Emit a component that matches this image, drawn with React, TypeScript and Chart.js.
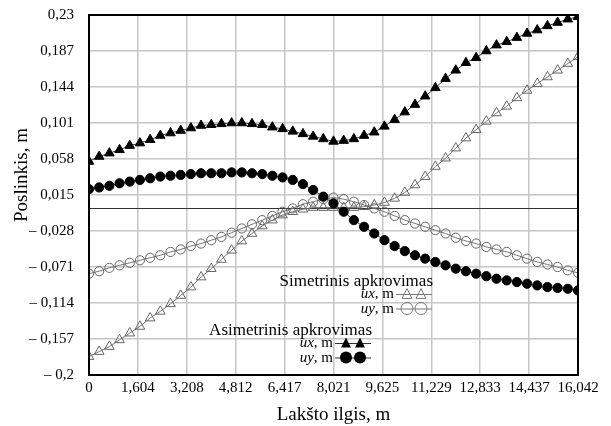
import React, { useEffect, useRef } from 'react';
import { Chart, registerables } from 'chart.js';

Chart.register(...registerables);

const FONT = "'Liberation Serif', 'Times New Roman', serif";

// Span length (m) and number of computed stations along it
const X_MAX = 16.0416;
const STATION_COUNT = 49;
const stations = Array.from({ length: STATION_COUNT }, (_, i) => (i * X_MAX) / (STATION_COUNT - 1));

const xTickLabels = ['0', '1,604', '3,208', '4,812', '6,417', '8,021', '9,625', '11,229', '12,833', '14,437', '16,042'];
const yTickValues = [-0.2, -0.157, -0.114, -0.071, -0.028, 0.015, 0.058, 0.101, 0.144, 0.187, 0.23];
const yTickLabels = ['\u2013 0,2', '\u2013 0,157', '\u2013 0,114', '\u2013 0,071', '\u2013 0,028', '0,015', '0,058', '0,101', '0,144', '0,187', '0,23'];
const xTitle = 'Lakšto ilgis, m';
const yTitle = 'Poslinkis, m';

// Asimetrinis apkrovimas
const asymUx = [
  0.055, 0.061, 0.065, 0.069, 0.074, 0.077, 0.081, 0.086, 0.089, 0.092,
  0.095, 0.098, 0.099, 0.100, 0.101, 0.101, 0.100, 0.099, 0.096, 0.094,
  0.091, 0.088, 0.085, 0.082, 0.079, 0.080, 0.082, 0.086, 0.090, 0.097,
  0.105, 0.114, 0.123, 0.133, 0.143, 0.154, 0.164, 0.173, 0.179, 0.187,
  0.194, 0.198, 0.203, 0.208, 0.212, 0.217, 0.221, 0.225, 0.228,
];
const asymUy = [
  0.022, 0.024, 0.026, 0.029, 0.031, 0.033, 0.035, 0.037, 0.038, 0.039,
  0.040, 0.041, 0.041, 0.041, 0.042, 0.042, 0.041, 0.040, 0.038, 0.036,
  0.033, 0.028, 0.021, 0.013, 0.005, -0.005, -0.015, -0.023, -0.031, -0.039,
  -0.046, -0.052, -0.057, -0.061, -0.065, -0.069, -0.073, -0.076, -0.079, -0.082,
  -0.085, -0.087, -0.089, -0.091, -0.093, -0.095, -0.096, -0.097, -0.099,
];
// Simetrinis apkrovimas
const symUx = [
  -0.178, -0.172, -0.166, -0.158, -0.150, -0.142, -0.132, -0.124, -0.115, -0.105,
  -0.095, -0.083, -0.073, -0.062, -0.051, -0.040, -0.031, -0.022, -0.015, -0.009,
  -0.005, -0.002, 0.000, 0.000, 0.000, 0.000, 0.000, 0.001, 0.003, 0.006,
  0.011, 0.018, 0.027, 0.037, 0.049, 0.059, 0.071, 0.083, 0.093, 0.103,
  0.113, 0.121, 0.131, 0.140, 0.148, 0.156, 0.164, 0.172, 0.180,
];
const symUy = [
  -0.079, -0.076, -0.072, -0.069, -0.066, -0.063, -0.060, -0.057, -0.053, -0.050,
  -0.046, -0.043, -0.039, -0.035, -0.030, -0.025, -0.020, -0.015, -0.010, -0.005,
  -0.001, 0.004, 0.007, 0.010, 0.012, 0.010, 0.007, 0.003, -0.001, -0.005,
  -0.010, -0.015, -0.019, -0.023, -0.027, -0.031, -0.036, -0.040, -0.043, -0.047,
  -0.050, -0.053, -0.057, -0.061, -0.065, -0.068, -0.071, -0.075, -0.078,
];

const toPoints = (values: number[]) => stations.map((x, i) => ({ x, y: values[i] }));

type LegendItem = { name: string; shape: 'triangle' | 'circle'; filled: boolean };
const legendGroups: { title: string; right: number; base: number; items: LegendItem[] }[] = [
  {
    title: 'Simetrinis apkrovimas',
    right: 344,
    base: 271,
    items: [
      { name: 'ux', shape: 'triangle', filled: false },
      { name: 'uy', shape: 'circle', filled: false },
    ],
  },
  {
    title: 'Asimetrinis apkrovimas',
    right: 283,
    base: 320,
    items: [
      { name: 'ux', shape: 'triangle', filled: true },
      { name: 'uy', shape: 'circle', filled: true },
    ],
  },
];

function drawMarker(ctx: CanvasRenderingContext2D, shape: string, filled: boolean, x: number, y: number, r: number) {
  ctx.beginPath();
  if (shape === 'circle') {
    ctx.arc(x, y, r, 0, Math.PI * 2);
  } else {
    const h = r * 1.6;
    const w = r * 1.8;
    ctx.moveTo(x, y - h / 2 - 1);
    ctx.lineTo(x + w / 2, y + h / 2);
    ctx.lineTo(x - w / 2, y + h / 2);
    ctx.closePath();
  }
  if (filled) {
    ctx.fillStyle = '#000';
    ctx.fill();
  } else {
    ctx.strokeStyle = '#777';
    ctx.lineWidth = 1;
    ctx.stroke();
  }
}

const overlayPlugin = {
  id: 'overlay',
  beforeDatasetsDraw(chart: any) {
    const { ctx, chartArea, scales } = chart;
    const y0 = scales.y.getPixelForValue(0);
    ctx.save();
    ctx.strokeStyle = '#333';
    ctx.lineWidth = 1;
    ctx.beginPath();
    ctx.moveTo(chartArea.left, Math.round(y0) + 0.5);
    ctx.lineTo(chartArea.right, Math.round(y0) + 0.5);
    ctx.stroke();
    ctx.restore();
  },
  afterDatasetsDraw(chart: any) {
    const { ctx, chartArea } = chart;
    const L = chartArea.left;
    const T = chartArea.top;
    ctx.save();
    ctx.textBaseline = 'alphabetic';
    for (const g of legendGroups) {
      ctx.font = `17px ${FONT}`;
      ctx.fillStyle = '#000';
      ctx.textAlign = 'right';
      ctx.fillText(g.title, L + g.right, T + g.base);
      g.items.forEach((it, k) => {
        const base = T + g.base + 12 + k * 14.5;
        const lineEnd = L + g.right - 1;
        const lineStart = lineEnd - 36;
        const my = base - 4;
        ctx.textAlign = 'left';
        ctx.font = `15px ${FONT}`;
        const restW = ctx.measureText(', m').width;
        ctx.font = `italic 15px ${FONT}`;
        const nameW = ctx.measureText(it.name).width;
        const textRight = lineStart - 2;
        ctx.fillStyle = '#000';
        ctx.fillText(it.name, textRight - restW - nameW, base);
        ctx.font = `15px ${FONT}`;
        ctx.fillText(', m', textRight - restW, base);
        ctx.strokeStyle = it.filled ? '#333' : '#777';
        ctx.lineWidth = 1;
        ctx.beginPath();
        ctx.moveTo(lineStart, my + 0.5);
        ctx.lineTo(lineEnd, my + 0.5);
        ctx.stroke();
        drawMarker(ctx, it.shape, it.filled, lineStart + 11, my, it.shape === 'circle' ? 6 : 5.5);
        drawMarker(ctx, it.shape, it.filled, lineStart + 25, my, it.shape === 'circle' ? 6 : 5.5);
      });
    }
    // plot frame
    ctx.strokeStyle = '#000';
    ctx.lineWidth = 2;
    ctx.strokeRect(chartArea.left, chartArea.top, chartArea.right - chartArea.left, chartArea.bottom - chartArea.top);
    // y axis title
    ctx.translate(22, T + 160);
    ctx.rotate(-Math.PI / 2);
    ctx.font = `19px ${FONT}`;
    ctx.fillStyle = '#000';
    ctx.textAlign = 'center';
    ctx.textBaseline = 'middle';
    ctx.fillText(yTitle, 0, 0);
    ctx.restore();
  },
};

export default function App() {
  const canvasRef = useRef<HTMLCanvasElement>(null);

  useEffect(() => {
    const canvas = canvasRef.current;
    if (!canvas) return;
    const gridColor = '#c6c6c6';
    const chart = new Chart(canvas, {
      type: 'line',
      data: {
        datasets: [
          {
            label: 'Asimetrinis ux, m',
            data: toPoints(asymUx),
            borderColor: '#444',
            borderWidth: 1,
            pointStyle: 'triangle',
            pointRadius: 5.5,
            pointBackgroundColor: '#000',
            pointBorderColor: '#000',
            pointBorderWidth: 1,
            tension: 0,
          },
          {
            label: 'Asimetrinis uy, m',
            data: toPoints(asymUy),
            borderColor: '#444',
            borderWidth: 1,
            pointStyle: 'circle',
            pointRadius: 4.6,
            pointBackgroundColor: '#000',
            pointBorderColor: '#000',
            pointBorderWidth: 1,
            tension: 0,
          },
          {
            label: 'Simetrinis ux, m',
            data: toPoints(symUx),
            borderColor: '#777',
            borderWidth: 1,
            pointStyle: 'triangle',
            pointRadius: 5.6,
            pointBackgroundColor: 'rgba(255,255,255,0)',
            pointBorderColor: '#666',
            pointBorderWidth: 1,
            tension: 0,
          },
          {
            label: 'Simetrinis uy, m',
            data: toPoints(symUy),
            borderColor: '#777',
            borderWidth: 1,
            pointStyle: 'circle',
            pointRadius: 4.6,
            pointBackgroundColor: 'rgba(255,255,255,0)',
            pointBorderColor: '#666',
            pointBorderWidth: 1,
            tension: 0,
          },
        ],
      },
      options: {
        responsive: false,
        animation: false,
        events: [],
        layout: { padding: { left: 0, right: 33, top: 15, bottom: 0 } },
        plugins: {
          legend: { display: false },
          tooltip: { enabled: false },
        },
        scales: {
          x: {
            type: 'linear',
            min: 0,
            max: X_MAX,
            afterBuildTicks: (scale: any) => {
              scale.ticks = xTickLabels.map((_, i) => ({ value: (i * X_MAX) / (xTickLabels.length - 1) }));
            },
            afterFit: (scale: any) => {
              scale.height = 51;
            },
            ticks: {
              autoSkip: false,
              maxRotation: 0,
              minRotation: 0,
              padding: 4,
              color: '#000',
              font: { family: FONT, size: 15 },
              callback: (_v: any, i: number) => xTickLabels[i],
            },
            grid: { color: gridColor, lineWidth: 1.5, drawTicks: false },
            border: { display: false },
            title: {
              display: true,
              text: xTitle,
              color: '#000',
              font: { family: FONT, size: 19 },
              padding: { top: 0, bottom: 0 },
            },
          },
          y: {
            type: 'linear',
            min: -0.2,
            max: 0.23,
            afterBuildTicks: (scale: any) => {
              scale.ticks = yTickValues.map((v) => ({ value: v }));
            },
            afterFit: (scale: any) => {
              scale.width = 89;
            },
            ticks: {
              autoSkip: false,
              padding: 0,
              color: '#000',
              font: { family: FONT, size: 15 },
              callback: (_v: any, i: number) => yTickLabels[i],
            },
            grid: {
              color: gridColor,
              lineWidth: 1.5,
              drawTicks: true,
              tickLength: 15,
              tickColor: 'rgba(0,0,0,0)',
            },
            border: { display: false },
            title: { display: false },
          },
        },
      },
      plugins: [overlayPlugin],
    } as any);
    return () => chart.destroy();
  }, []);

  return (
    <div style={{ position: 'fixed', left: 0, top: 0, width: 611, height: 426, background: '#fff' }}>
      <canvas ref={canvasRef} width={611} height={426} style={{ display: 'block', width: 611, height: 426 }} />
    </div>
  );
}
